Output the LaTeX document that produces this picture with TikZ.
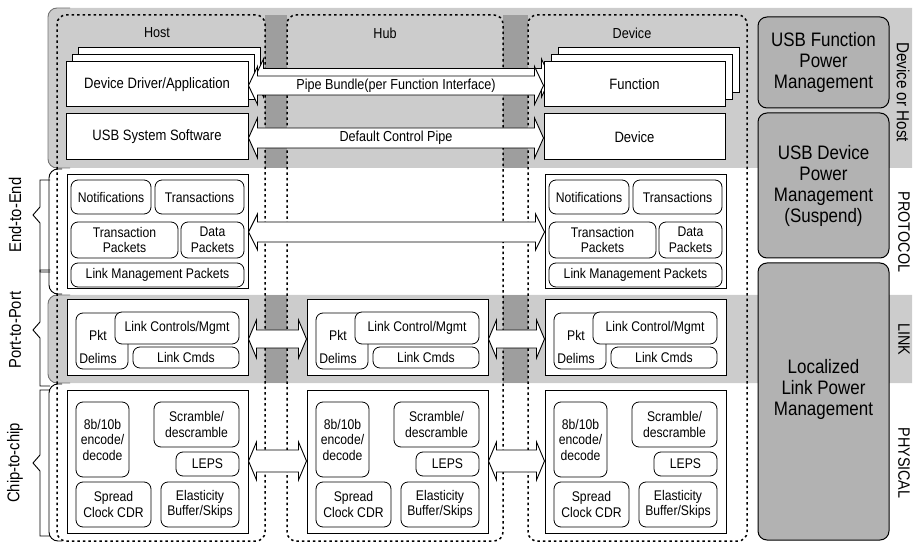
\documentclass[tikz,border=0pt]{standalone}
\usepackage{fontspec}
\setmainfont{Liberation Sans}[FakeStretch=0.87]
\usetikzlibrary{calc}
\definecolor{bandc}{gray}{0.80}
\definecolor{gapc}{gray}{0.62}
\definecolor{powc}{gray}{0.70}
\newcommand{\mkbox}[6]{\node[#1, minimum width={(#4)-(#2)}, minimum height={(#5)-(#3)}] (#6) at ({((#2)+(#4))/2},{((#3)+(#5))/2})}
\newcommand{\barrow}[5]{\path[barr] let \p1=(#1), \p2=(#2) in (\x1,\y1) -- (\x1+#5pt,\y1+#4pt) -- (\x1+#5pt,\y1+#3pt) -- (\x2-#5pt,\y1+#3pt) -- (\x2-#5pt,\y1+#4pt) -- (\x2,\y1) -- (\x2-#5pt,\y1-#4pt) -- (\x2-#5pt,\y1-#3pt) -- (\x1+#5pt,\y1-#3pt) -- (\x1+#5pt,\y1-#4pt) -- cycle;}
\tikzset{
  sq/.style={draw, line width=1pt, fill=white, inner sep=0pt, align=center, font=\fontsize{15}{16}\selectfont},
  rb/.style={draw, line width=0.8pt, fill=white, rounded corners=7pt, inner sep=0pt, align=center, font=\fontsize{14}{15.5}\selectfont},
  rbt/.style={inner sep=0pt, align=center, font=\fontsize{14}{23}\selectfont},
  pw/.style={draw, line width=1pt, fill=powc, rounded corners=9pt, inner sep=0pt, align=center, font=\fontsize{19.5}{21}\selectfont},
  pwt/.style={inner sep=0pt, align=center, font=\fontsize{19.5}{21}\selectfont},
  coldash/.style={line width=1.5pt, dash pattern=on 2.5pt off 3pt, rounded corners=9pt},
  barr/.style={draw, line width=0.9pt, fill=white, line join=miter},
  lbl/.style={inner sep=0pt, font=\fontsize{14.5}{15}\selectfont},
  side/.style={inner sep=0pt, font=\fontsize{17}{18}\selectfont, rotate=90},
  rside/.style={inner sep=0pt, font=\fontsize{16.5}{18}\selectfont, rotate=-90},
  brc/.style={line width=0.9pt, line join=miter},
  edge/.style={line width=0.9pt, rounded corners=9pt},
}
\begin{document}
\begin{tikzpicture}[x=1pt,y=-1pt]
\useasboundingbox (0,0) rectangle (916,545);
% shaded bands
\fill[bandc] (912,8) -- (480,8) [rounded corners=9pt] -- (48,8) -- (48,168) -- (480,168) [sharp corners] -- (912,168) -- cycle;
\fill[bandc] (912,295) -- (480,295) [rounded corners=9pt] -- (48,295) -- (48,383) -- (480,383) [sharp corners] -- (912,383) -- cycle;
\draw[edge, black!55] (70,168) -- (48,168) -- (48,8) -- (70,8);
\draw[edge, black!55] (70,383) -- (48,383) -- (48,295) -- (70,295);
% white band outlines
\draw[edge] (62,169) -- (49,169) -- (49,294) -- (62,294);
\draw[edge] (62,384) -- (49,384) -- (49,541) -- (62,541);
% darker gaps between columns
\fill[gapc] (265,15) rectangle (287,168);
\fill[gapc] (503,15) rectangle (528,168);
\fill[gapc] (265,295) rectangle (287,383);
\fill[gapc] (503,295) rectangle (528,383);
% columns
\draw[coldash] (57,15) rectangle (265,541);
\draw[coldash] (287,15) rectangle (503,541);
\draw[coldash] (528,15) rectangle (747,541);
\node[lbl] (thost) at (157,33) {Host};
\node[lbl] (thub) at (385,33) {Hub};
\node[lbl] (tdev) at (632,33) {Device};
% left braces and labels
\draw[brc] (50,180) -- (40,180) -- (40,207) -- (33,215) -- (40,223) -- (40,272) -- (50,272);
\draw[brc] (50,270) -- (40,270) -- (40,322) -- (33,330) -- (40,338) -- (40,386) -- (50,386);
\draw[brc] (50,390) -- (40,390) -- (40,455) -- (33,463) -- (40,471) -- (40,536) -- (50,536);
\node[side] (lee) at (15,215) {End-to-End};
\node[side] (lpp) at (15,330) {Port-to-Port};
\node[side] (lcc) at (15,463) {Chip-to-chip};
% stacked top boxes (back copies)
\mkbox{sq}{78}{48}{260}{93}{h-app2}{};
\mkbox{sq}{558}{48}{739}{93}{d-fun2}{};
\coordinate (yb) at (0,78);
\coordinate (ypf) at (0,85.5);
\coordinate (ydc) at (0,138);
\coordinate (ypr) at (0,232);
\coordinate (yl) at (0,339);
\coordinate (yph) at (0,461);
\mkbox{sq}{72}{55}{254}{100}{h-app1}{};
\mkbox{sq}{551}{55}{732}{100}{d-fun1}{};
\barrow{$(h-app1.east |- yb)$}{$(d-fun1.west |- yb)$}{9.5}{19}{9}
\mkbox{sq}{66}{62}{248}{107}{h-app}{Device Driver/Application};
\mkbox{sq}{544}{62}{725}{107}{d-fun}{Function};
\mkbox{sq}{66}{114}{248}{160}{h-sys}{USB System Software};
\mkbox{sq}{544}{114}{725}{160}{d-dev}{Device};
\barrow{h-app.east |- ypf}{d-fun.west |- ypf}{9.5}{19}{9}
\barrow{h-sys.east |- ydc}{d-dev.west |- ydc}{10}{20}{9}
\node[lbl] (pipelbl) at ($(h-app.east |- ypf)!0.5!(d-fun.west |- ypf)$) {Pipe Bundle(per Function Interface)};
\node[lbl] (dcplbl) at ($(h-sys.east |- ydc)!0.5!(d-dev.west |- ydc)$) {Default Control Pipe};
% protocol
\foreach \c/\x in {h/67,d/545}{
  \mkbox{sq}{\x}{175}{\x+181}{289}{\c-prot}{};
  \mkbox{rb}{\x+4}{180}{\x+84}{214}{\c-notif}{Notifications};
  \mkbox{rb}{\x+88}{180}{\x+177}{214}{\c-trans}{Transactions};
  \mkbox{rb}{\x+4}{222}{\x+111}{258}{\c-tpk}{Transaction\\Packets};
  \mkbox{rb}{\x+114}{222}{\x+177}{258}{\c-dpk}{Data\\Packets};
  \mkbox{rb}{\x+4}{263}{\x+177}{287}{\c-lmp}{Link Management Packets};
}
\barrow{h-prot.east |- ypr}{d-prot.west |- ypr}{10}{18}{9}
% link
\foreach \c/\x/\t in {h/67/Link Controls\slash Mgmt,u/307/Link Control\slash Mgmt,d/545/Link Control\slash Mgmt}{
  \mkbox{sq}{\x}{300}{\x+181}{376}{\c-link}{};
  \mkbox{rb}{\x+9}{313}{\x+61}{369}{\c-pkt}{};
  \node[rbt] (\c-pkttxt) at (\x+31,347) {Pkt\\Delims};
  \mkbox{rb}{\x+48}{312}{\x+172}{344}{\c-lcm}{\t};
  \mkbox{rb}{\x+66}{347}{\x+172}{368}{\c-cmd}{Link Cmds};
}
\barrow{h-link.east |- yl}{u-link.west |- yl}{9}{19}{8}
\barrow{u-link.east |- yl}{d-link.west |- yl}{9}{19}{8}
% physical
\foreach \c/\x in {h/67,u/307,d/545}{
  \mkbox{sq}{\x}{390}{\x+181}{533}{\c-phy}{};
  \mkbox{rb}{\x+9}{402}{\x+62}{477}{\c-enc}{8b/10b\\encode/\\decode};
  \mkbox{rb}{\x+87}{402}{\x+172}{447}{\c-scr}{Scramble/\\descramble};
  \mkbox{rb}{\x+109}{452}{\x+172}{476}{\c-leps}{LEPS};
  \mkbox{rb}{\x+9}{482}{\x+84}{527}{\c-spr}{Spread\\Clock CDR};
  \mkbox{rb}{\x+94}{482}{\x+172}{527}{\c-ela}{Elasticity\\Buffer/Skips};
}
\barrow{h-phy.east |- yph}{u-phy.west |- yph}{11}{19}{8}
\barrow{u-phy.east |- yph}{d-phy.west |- yph}{11}{19}{8}
% power management
\mkbox{pw}{758}{17}{889}{108}{pfun}{USB Function\\Power\\Management};
\mkbox{pw}{758}{113}{889}{258}{pdev}{USB Device\\Power\\Management\\(Suspend)};
\mkbox{pw}{758}{263}{889}{540}{ploc}{};
\node[pwt] (ploctxt) at ($(ploc.center)+(0,-12)$) {Localized\\Link Power\\Management};
% right labels
\node[rside, font=\fontsize{17.5}{18}\selectfont] (rdh) at (903,92) {Device or Host};
\node[rside] (rpr) at (904,232) {PROTOCOL};
\node[rside] (rln) at (904,339) {LINK};
\node[rside] (rph) at (904,463) {PHYSICAL};
\end{tikzpicture}
\end{document}
